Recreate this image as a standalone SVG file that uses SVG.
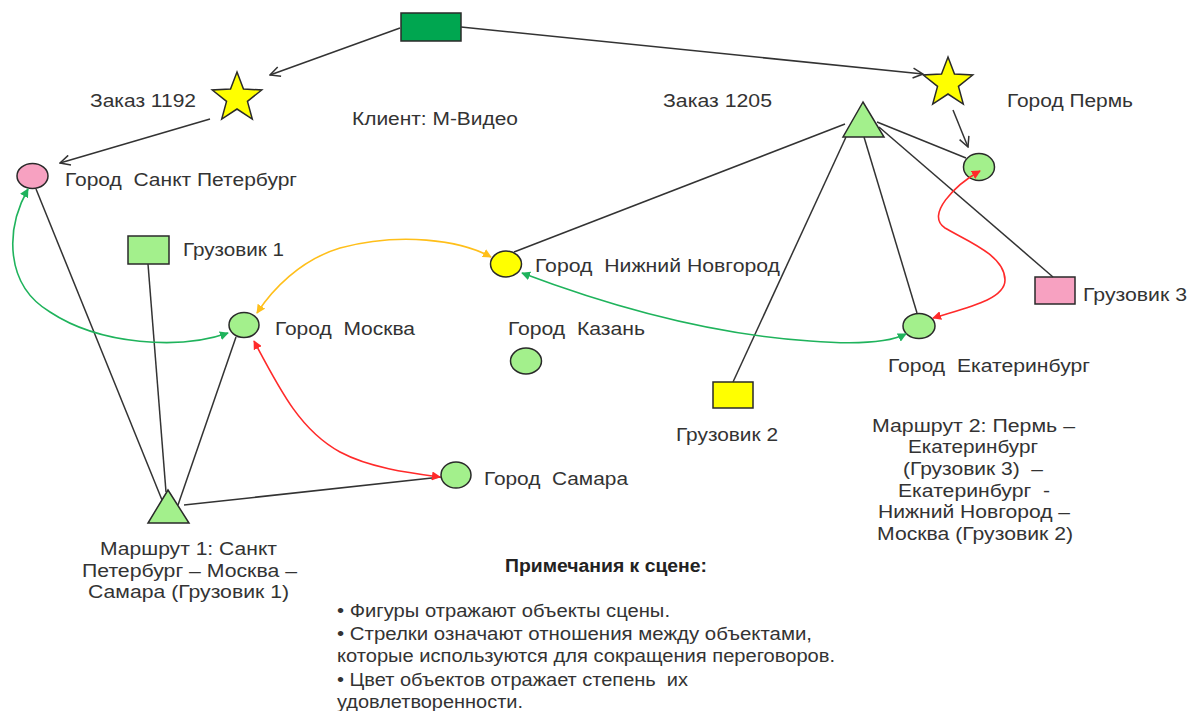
<svg xmlns="http://www.w3.org/2000/svg" xmlns:xlink="http://www.w3.org/1999/xlink" width="1192" height="711" viewBox="0 0 1192 711">
<style>
text { font-family: "Liberation Sans", Arial, sans-serif; font-size: 17.5px; fill: #333333; white-space: pre; }
.bold { font-weight: bold; fill: #222222; }
.shape { stroke: #2a2a2a; stroke-width: 1.5; }
.lg { fill: #a3f08c; }
.pink { fill: #f7a1c1; }
.yel { fill: #ffff00; }
.dg { fill: #00a650; }
.link { stroke: #333333; stroke-width: 1.5; fill: none; }
.arr { stroke: #333333; stroke-width: 1.5; fill: none; marker-end: url(#open); }
.c { fill: none; stroke-width: 1.6; marker-start: url(#hs); marker-end: url(#he); }
</style>
<defs>
<polygon id="star" points="0,-26 6.47,-8.9 24.73,-8.03 10.46,3.4 15.28,21.03 0,11 -15.28,21.03 -10.46,3.4 -24.73,-8.03 -6.47,-8.9"/>
<marker id="open" viewBox="0 0 12 12" refX="11" refY="6" markerWidth="12" markerHeight="12" markerUnits="userSpaceOnUse" orient="auto">
<path d="M1,1 L11,6 L1,11" fill="none" stroke="#333333" stroke-width="1.5"/>
</marker>
<marker id="he" viewBox="0 0 10 10" refX="9" refY="5" markerWidth="9" markerHeight="9" markerUnits="userSpaceOnUse" orient="auto">
<path d="M0,0 L10,5 L0,10 Z" fill="context-stroke"/>
</marker>
<marker id="hs" viewBox="0 0 10 10" refX="9" refY="5" markerWidth="9" markerHeight="9" markerUnits="userSpaceOnUse" orient="auto-start-reverse">
<path d="M0,0 L10,5 L0,10 Z" fill="context-stroke"/>
</marker>
</defs>

<g id="client">
<rect class="shape dg" x="401" y="13" width="60" height="28"/>
<text x="352" y="125" textLength="166" lengthAdjust="spacingAndGlyphs">Клиент: М-Видео</text>
</g>
<g id="order1192">
<use href="#star" xlink:href="#star" x="237" y="98" class="shape yel"/>
<text x="90" y="107" textLength="106" lengthAdjust="spacingAndGlyphs">Заказ 1192</text>
</g>
<g id="order1205">
<polygon class="shape lg" points="863,102 843,137 884,137"/>
<text x="663" y="107" textLength="109" lengthAdjust="spacingAndGlyphs">Заказ 1205</text>
</g>
<g id="perm-star">
<use href="#star" xlink:href="#star" x="948" y="83" class="shape yel"/>
<text x="1007" y="107" textLength="126" lengthAdjust="spacingAndGlyphs">Город Пермь</text>
</g>
<g id="spb">
<ellipse class="shape pink" cx="32.5" cy="176" rx="15.5" ry="12.5"/>
<text x="65" y="186" textLength="232" lengthAdjust="spacingAndGlyphs">Город  Санкт Петербург</text>
</g>
<g id="truck1">
<rect class="shape lg" x="128" y="236" width="41" height="28"/>
<text x="183" y="256" textLength="101" lengthAdjust="spacingAndGlyphs">Грузовик 1</text>
</g>
<g id="moscow">
<ellipse class="shape lg" cx="244" cy="325" rx="15" ry="12.5"/>
<text x="275" y="335" textLength="140" lengthAdjust="spacingAndGlyphs">Город  Москва</text>
</g>
<g id="nn">
<ellipse class="shape yel" cx="506" cy="264" rx="15.5" ry="13"/>
<text x="535" y="272" textLength="245" lengthAdjust="spacingAndGlyphs">Город  Нижний Новгород</text>
</g>
<g id="kazan">
<ellipse class="shape lg" cx="526" cy="361" rx="15.5" ry="13"/>
<text x="508" y="335" textLength="137" lengthAdjust="spacingAndGlyphs">Город  Казань</text>
</g>
<g id="samara">
<ellipse class="shape lg" cx="456" cy="475" rx="15" ry="13"/>
<text x="484" y="485" textLength="144" lengthAdjust="spacingAndGlyphs">Город  Самара</text>
</g>
<g id="route1">
<polygon class="shape lg" points="168,490 148,523 189,523"/>
<text x="100" y="555" textLength="177" lengthAdjust="spacingAndGlyphs">Маршрут 1: Санкт</text>
<text x="82" y="577" textLength="215" lengthAdjust="spacingAndGlyphs">Петербург – Москва –</text>
<text x="88" y="598" textLength="201" lengthAdjust="spacingAndGlyphs">Самара (Грузовик 1)</text>
</g>
<g id="truck2">
<rect class="shape yel" x="713" y="382" width="40" height="26"/>
<text x="676" y="441" textLength="102" lengthAdjust="spacingAndGlyphs">Грузовик 2</text>
</g>
<g id="perm">
<ellipse class="shape lg" cx="979" cy="167" rx="15.5" ry="13.5"/>
</g>
<g id="ekaterinburg">
<ellipse class="shape lg" cx="919" cy="326" rx="16" ry="12.5"/>
<text x="888" y="372" textLength="202" lengthAdjust="spacingAndGlyphs">Город  Екатеринбург</text>
</g>
<g id="truck3">
<rect class="shape pink" x="1035" y="277" width="40" height="27"/>
<text x="1083" y="301" textLength="104" lengthAdjust="spacingAndGlyphs">Грузовик 3</text>
</g>
<g id="route2">
<text x="872" y="432" textLength="203" lengthAdjust="spacingAndGlyphs">Маршрут 2: Пермь –</text>
<text x="908" y="453" textLength="130" lengthAdjust="spacingAndGlyphs">Екатеринбург</text>
<text x="903" y="475" textLength="140" lengthAdjust="spacingAndGlyphs">(Грузовик 3)  –</text>
<text x="898" y="497" textLength="152" lengthAdjust="spacingAndGlyphs">Екатеринбург  -</text>
<text x="878" y="518" textLength="192" lengthAdjust="spacingAndGlyphs">Нижний Новгород –</text>
<text x="877" y="540" textLength="196" lengthAdjust="spacingAndGlyphs">Москва (Грузовик 2)</text>
</g>
<g id="notes">
<text class="bold" x="505" y="572" textLength="202" lengthAdjust="spacingAndGlyphs">Примечания к сцене:</text>
<text x="337" y="617" textLength="333" lengthAdjust="spacingAndGlyphs">• Фигуры отражают объекты сцены.</text>
<text x="337" y="640" textLength="475" lengthAdjust="spacingAndGlyphs">• Стрелки означают отношения между объектами,</text>
<text x="337" y="662" textLength="498" lengthAdjust="spacingAndGlyphs">которые используются для сокращения переговоров.</text>
<text x="337" y="686" textLength="351" lengthAdjust="spacingAndGlyphs">• Цвет объектов отражает степень  их</text>
<text x="337" y="708" textLength="186" lengthAdjust="spacingAndGlyphs">удовлетворенности.</text>
</g>

<g id="connectors">
<line class="arr" x1="400" y1="28" x2="270" y2="75"/>
<line class="arr" x1="461" y1="27" x2="923" y2="74"/>
<line class="arr" x1="210" y1="119" x2="60" y2="163"/>
<line class="arr" x1="953" y1="110" x2="968" y2="147"/>
<line class="link" x1="36" y1="189" x2="162" y2="500"/>
<line class="link" x1="148" y1="264" x2="166" y2="492"/>
<line class="link" x1="236" y1="337" x2="178" y2="505"/>
<line class="link" x1="184" y1="505" x2="441" y2="477"/>
<line class="link" x1="845" y1="124" x2="514" y2="252"/>
<line class="link" x1="877" y1="122" x2="966" y2="158"/>
<line class="link" x1="879" y1="127" x2="1053" y2="277"/>
<line class="link" x1="864" y1="137" x2="917" y2="313"/>
<line class="link" x1="846" y1="137" x2="733" y2="382"/>
<path class="c" stroke="#1fb35c" d="M28 189 C5 230 5 285 50 312 C100 345 180 350 228 333"/>
<path class="c" stroke="#ffbf1a" d="M491 257 C460 240 400 232 340 248 C300 260 272 290 257 313"/>
<path class="c" stroke="#ff2a2a" d="M254 341 C280 390 300 430 340 452 C370 468 410 473 440 477"/>
<path class="c" stroke="#1fb35c" d="M522 273 C620 310 720 335 810 341 C860 345 890 342 906 334"/>
<path class="c" stroke="#ff2a2a" d="M980 171 C955 185 925 215 945 228 C965 240 1005 255 1005 280 C1005 300 965 308 933 318"/>
</g>
</svg>
